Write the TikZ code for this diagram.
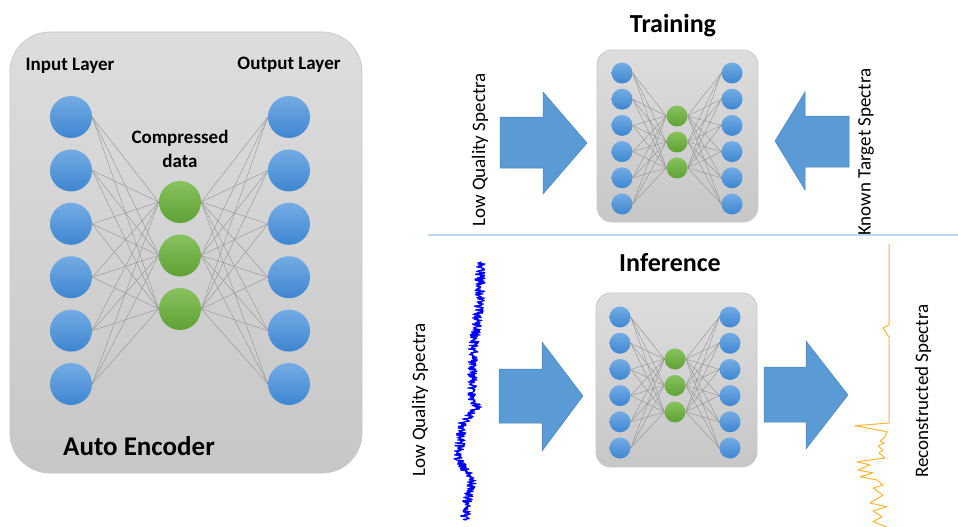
\documentclass[tikz,border=0pt]{standalone}
\usepackage{fontspec}
\setmainfont{Carlito}
\definecolor{boxtop}{HTML}{DDDDDD}
\definecolor{boxbot}{HTML}{C7C7C7}
\definecolor{boxline}{HTML}{C8C8C8}
\definecolor{bluetop}{HTML}{74ACE4}
\definecolor{bluebot}{HTML}{3E86D1}
\definecolor{greentop}{HTML}{88C25E}
\definecolor{greenbot}{HTML}{5EA235}
\definecolor{edgegray}{HTML}{929292}
\definecolor{arrowfill}{HTML}{5B9BD5}
\definecolor{arrowline}{HTML}{4A86C0}
\definecolor{sepblue}{HTML}{BDD7EE}
\definecolor{specorange}{HTML}{FFB534}
\newcommand\drawnet[9]{%
  \foreach \i in {1,...,6} {
    \node[bluenode, minimum size=#9pt] (#1i\i) at ({#2},{#5+(\i-1)*#6}) {};
    \node[bluenode, minimum size=#9pt] (#1o\i) at ({#4},{#5+(\i-1)*#6}) {};
  }
  \foreach \j in {1,2,3}
    \node[greennode, minimum size=#9pt] (#1g\j) at ({#3},{#7+(\j-1)*#8}) {};
  \foreach \i in {1,...,6} \foreach \j in {1,2,3} {
    \draw[netedge] (#1i\i.east) -- (#1g\j.west);
    \draw[netedge] (#1g\j.east) -- (#1o\i.west);
  }
}
\begin{document}
\begin{tikzpicture}[x=1pt,y=-1pt,
  panel/.style={draw=boxline, line width=0.8pt, top color=boxtop, bottom color=boxbot, rounded corners=#1},
  bluenode/.style={circle, inner sep=0pt, top color=bluetop, bottom color=bluebot},
  greennode/.style={circle, inner sep=0pt, top color=greentop, bottom color=greenbot},
  netedge/.style={draw=edgegray, line width=0.4pt},
  bigarrow/.style={fill=arrowfill, draw=arrowline, line width=0.5pt},
  lab/.style={font=\bfseries\fontsize{19}{24}\selectfont, align=center, inner sep=0pt},
  title/.style={font=\bfseries\fontsize{26}{30}\selectfont, inner sep=0pt},
  sidelab/.style={font=\fontsize{19}{22}\selectfont, rotate=90, inner sep=0pt},
  declare function={ramp(\tv,\ta,\tb)=max(0,min(1,(\tv-\ta)/(\tb-\ta)));
    base(\tv)=480-7*ramp(\tv,300,350)-1*ramp(\tv,350,400)+5*ramp(\tv,400,407)-14*ramp(\tv,407,423)-5*ramp(\tv,423,457)+15*ramp(\tv,457,483)-6*ramp(\tv,483,500)-2*ramp(\tv,500,520);}]
\useasboundingbox (0,0) rectangle (958,527);
\fill[white] (0,0) rectangle (958,527);

% ---------- left auto encoder ----------
\path[panel=40pt] (10,32) rectangle (362,473);
\drawnet{L}{71}{180}{289}{117}{53.4}{202}{53.5}{42}
\node[lab] (inlab) at (70,66) {Input Layer};
\node[lab] (outlab) at (289,65) {Output Layer};
\node[lab] (comp) at (180,149) {Compressed\\data};
\node[font=\bfseries\fontsize{27}{32}\selectfont, inner sep=0pt] (ae) at (139,446) {Auto Encoder};

% ---------- training ----------
\node[title] (train) at (673,26) {Training};
\path[panel=15pt] (597,50) rectangle (758,222);
\drawnet{T}{622}{677}{732}{73}{26.2}{116}{26}{21}
\path[bigarrow] (500,117) -- (543,117) -- (543,92) -- (587,143) -- (543,194) -- (543,168) -- (500,168) -- cycle;
\path[bigarrow] (849,116) -- (805,116) -- (805,92) -- (775,141) -- (805,190) -- (805,167) -- (849,167) -- cycle;
\node[sidelab] (lqs1) at (480,150) {Low Quality Spectra};
\node[sidelab] (kts) at (866,152) {Known Target Spectra};

% ---------- separator ----------
\coordinate (sepa) at (428,235);
\coordinate (sepb) at (958,235);
\draw[sepblue, line width=1.2pt] (sepa) -- (sepb);

% ---------- inference ----------
\node[title] (infer) at (670,263) {Inference};
\path[panel=15pt] (596,293) rectangle (757,467);
\drawnet{I}{620}{675}{730}{317}{26.2}{359}{26.5}{21}
\path[bigarrow] (499,369) -- (542,369) -- (542,342) -- (583,396) -- (542,451) -- (542,423) -- (499,423) -- cycle;
\path[bigarrow] (764,367) -- (806,367) -- (806,341) -- (848,395) -- (806,449) -- (806,422) -- (764,422) -- cycle;
\node[sidelab] (lqs2) at (420,400) {Low Quality Spectra};
\node[sidelab] (rs) at (923,391) {Reconstructed Spectra};

% noisy input spectrum
\pgfmathsetseed{7}
\draw[blue, line width=1.2pt, line join=round] (480,262) \foreach \t in {262.5,263,...,520}{ -- ({base(\t)+5*rand},\t) };

% reconstructed spectrum
\draw[specorange, line width=1pt, line join=round] (889,244) -- (889,325) -- (883,328) -- (889,337) -- (889,423)
  -- (855,425.7) -- (886.7,431.7) -- (885,436.7) -- (880,441) -- (884,443) -- (878,446) -- (883,450) -- (879,453)
  -- (885,458) -- (857,461.7) -- (870,465) -- (858,470) -- (873,473) -- (860,476.7) -- (877,480) -- (883,485)
  -- (873,488) -- (883,495) -- (870,503) -- (887,506.7) -- (873,511) -- (882,516.7) -- (873,521.7) -- (887,527);
\end{tikzpicture}
\end{document}
